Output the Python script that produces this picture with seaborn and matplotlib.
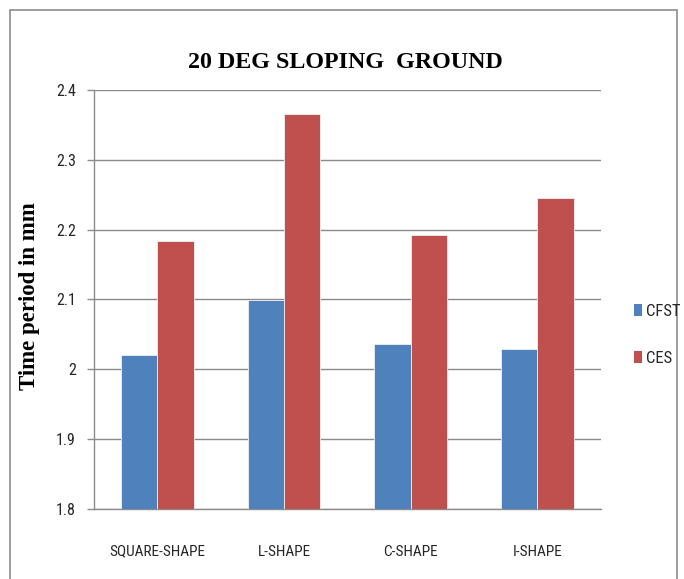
import matplotlib
matplotlib.use("Agg")
import matplotlib.pyplot as plt
from matplotlib.patches import Rectangle, Patch
import seaborn as sns
import pandas as pd

shapes = ["SQUARE-SHAPE", "L-SHAPE", "C-SHAPE", "I-SHAPE"]
cfst = [2.020, 2.099, 2.036, 2.029]
ces = [2.183, 2.365, 2.192, 2.245]
series = ["CFST", "CES"]
colors = ["#4F81BD", "#C0504D"]
yticks = [1.8, 1.9, 2.0, 2.1, 2.2, 2.3, 2.4]
ytick_labels = ["1.8", "1.9", "2", "2.1", "2.2", "2.3", "2.4"]

df = pd.DataFrame({
    "shape": shapes * 2,
    "series": ["CFST"] * len(shapes) + ["CES"] * len(shapes),
    "value": cfst + ces,
})

sns.set_theme(style="white")
narrow = "Roboto Condensed"
serif = "Liberation Serif"

fig = plt.figure(figsize=(6.84, 5.79), dpi=100)
# outer chart frame
fig.patches.append(Rectangle((10 / 684, -0.05), 667 / 684, 1.05 - 10 / 579,
                             transform=fig.transFigure, fill=False,
                             edgecolor="#8c8c8c", linewidth=1.2))
ax = fig.add_axes([94 / 684, (579 - 508.7) / 579, (600.7 - 94) / 684, (508.7 - 90) / 579])

sns.barplot(data=df, x="shape", y="value", hue="series", hue_order=series,
            palette=colors, saturation=1, width=0.573, gap=0, ax=ax, legend=False,
            edgecolor="#eef0f4", linewidth=0.6, zorder=3)

ax.set_ylim(1.8, 2.4)
ax.set_yticks(yticks)
ax.set_yticklabels(ytick_labels, fontfamily=narrow, fontsize=11.5, color="#262626")
ax.set_xlim(-0.5, len(shapes) - 0.5)
ax.set_xticks(range(len(shapes)))
ax.set_xticklabels(shapes, fontfamily=narrow, fontsize=11, color="#262626")
ax.set_xticks([i - 0.5 for i in range(len(shapes) + 1)], minor=True)
ax.tick_params(axis="x", which="major", length=0, pad=26)
ax.tick_params(axis="x", which="minor", length=7, color="#8c8c8c", width=1, direction="out")
ax.tick_params(axis="y", length=5, color="#8c8c8c", width=1, direction="out", pad=8, left=True)
ax.grid(axis="y", color="#8a8a8a", linewidth=1, zorder=0)
ax.set_axisbelow(True)
for side in ["top", "right"]:
    ax.spines[side].set_visible(False)
for side in ["left", "bottom"]:
    ax.spines[side].set_color("#8c8c8c")
    ax.spines[side].set_linewidth(1)
ax.set_xlabel("")
ax.set_ylabel("Time period in mm", fontfamily=serif, fontweight="bold", fontsize=16.5, color="black")
ax.yaxis.set_label_coords((40 - 94) / 506.7, (509 - 296) / 419)

fig.text(345 / 684, 1 - 62 / 579, "20 DEG SLOPING  GROUND", ha="center", va="center",
         fontfamily=serif, fontweight="bold", fontsize=17.3, color="black")

handles = [Patch(facecolor=c, edgecolor="none") for c in colors]
fig.legend(handles, series, loc="center left", bbox_to_anchor=(619 / 684, 1 - 335 / 579),
           frameon=False, handlelength=0.45, handleheight=0.75, handletextpad=0.25,
           labelspacing=1.9, prop={"family": narrow, "size": 12})

fig.savefig("out.png", dpi=100)
